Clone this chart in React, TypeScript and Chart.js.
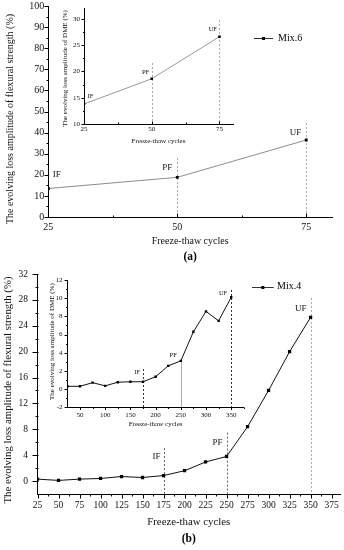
import React, { useEffect, useRef } from 'react';
import { Chart, registerables } from 'chart.js';
Chart.register(...registerables);

const FONT = '"Liberation Serif", "Times New Roman", serif';

// ---------- (a) Mix.6 ----------
const A_SERIES = 'Mix.6';
const A_CYCLES = [25, 50, 75];
const A_FLEX = [13.5, 18.8, 36.5];
const A_DME = [13.8, 18.6, 26.6];
const A_X_TICKS = [25, 50, 75];
const A_X_MINOR = [37.5, 62.5];
const A_Y_TICKS = [0, 10, 20, 30, 40, 50, 60, 70, 80, 90, 100];
const A_Y_MINOR = [5, 15, 25, 35, 45, 55, 65, 75, 85, 95];
const A_IN_Y_TICKS = [10, 15, 20, 25, 30];
const A_IN_Y_MINOR = [12.5, 17.5, 22.5, 27.5];

// ---------- (b) Mix.4 ----------
const B_SERIES = 'Mix.4';
const B_CYCLES = [25, 50, 75, 100, 125, 150, 175, 200, 225, 250, 275, 300, 325, 350];
const B_FLEX = [0.3, 0.1, 0.3, 0.4, 0.7, 0.55, 0.85, 1.6, 2.95, 3.8, 8.4, 14.0, 20.0, 25.3];
const B_DME = [0.3, 0.3, 0.7, 0.35, 0.75, 0.8, 0.8, 1.35, 2.55, 3.1, 6.3, 8.55, 7.5, 10.1];
const B_X_TICKS = [25, 50, 75, 100, 125, 150, 175, 200, 225, 250, 275, 300, 325, 350, 375];
const B_X_MINOR = [37.5, 62.5, 87.5, 112.5, 137.5, 162.5, 187.5, 212.5, 237.5, 262.5, 287.5, 312.5, 337.5, 362.5];
const B_Y_TICKS = [0, 4, 8, 12, 16, 20, 24, 28, 32];
const B_Y_MINOR = [2, 6, 10, 14, 18, 22, 26, 30];
const B_IN_X_TICKS = [50, 100, 150, 200, 250, 300, 350];
const B_IN_X_MINOR = [75, 125, 175, 225, 275, 325, 375];
const B_IN_Y_TICKS = [-2, 0, 2, 4, 6, 8, 10, 12];
const B_IN_Y_MINOR = [-1, 1, 3, 5, 7, 9, 11];

// stages
const STAGES = ['IF', 'PF', 'UF'];
const A_STAGE_X = [25, 50, 75];
const B_STAGE_X = [175, 250, 350];

const X_TITLE = 'Freeze-thaw cycles';
const Y_TITLE_MAIN = 'The evolving loss amplitude of flexural strength (%)';
const Y_TITLE_INSET = 'The evolving loss amplitude of DME (%)';

type Mark = { text: string; x: number; y: number; align: CanvasTextAlign; dx: number };
type VLine = { x: number; top: number; color: string; dash: number[] };

type Spec = {
  W: number; H: number;
  area: { left: number; top: number; right: number; bottom: number };
  xMin: number; xMax: number; yMin: number; yMax: number;
  xTicks: number[]; xMinor: number[]; yTicks: number[]; yMinor: number[];
  xs: number[]; ys: number[]; label: string; color: string; pr: number;
  tickFont: number; padX: number; padY: number;
  xTickDir: number; xLen: number; xMinLen: number; yLen: number; yMinLen: number;
  xTitleSize: number; xTitlePad: number;
  yTitle: string; yTitleSize: number; yTitleX: number; yTitleDy: number;
  marks: Mark[]; markSize: number; vlines: VLine[];
  legend?: { x0: number; x1: number; y: number; tx: number; size: number };
  caption?: { text: string; y: number; size: number };
};

function build(canvas: HTMLCanvasElement, s: Spec) {
  const decor = {
    id: 'decor',
    beforeDatasetsDraw(chart: any) {
      const { ctx, chartArea: ca, scales } = chart;
      ctx.save();
      ctx.lineWidth = 1;
      s.vlines.forEach((v) => {
        const px = Math.round(scales.x.getPixelForValue(v.x)) + 0.5;
        ctx.strokeStyle = v.color;
        ctx.setLineDash(v.dash);
        ctx.beginPath();
        ctx.moveTo(px, scales.y.getPixelForValue(v.top));
        ctx.lineTo(px, ca.bottom);
        ctx.stroke();
      });
      ctx.restore();
    },
    afterDraw(chart: any) {
      const { ctx, chartArea: ca, scales } = chart;
      const xs = scales.x, ys = scales.y;
      ctx.save();
      ctx.strokeStyle = '#000';
      ctx.lineWidth = 1;
      ctx.setLineDash([]);
      const by = Math.round(ca.bottom) + 0.5;
      const lx = Math.round(ca.left) + 0.5;
      const xt = (vals: number[], len: number) =>
        vals.forEach((v) => {
          const px = Math.round(xs.getPixelForValue(v)) + 0.5;
          ctx.beginPath();
          ctx.moveTo(px, by);
          ctx.lineTo(px, by + s.xTickDir * len);
          ctx.stroke();
        });
      const yt = (vals: number[], len: number) =>
        vals.forEach((v) => {
          const py = Math.round(ys.getPixelForValue(v)) + 0.5;
          ctx.beginPath();
          ctx.moveTo(lx, py);
          ctx.lineTo(lx - len, py);
          ctx.stroke();
        });
      xt(s.xTicks, s.xLen);
      xt(s.xMinor, s.xMinLen);
      yt(s.yTicks, s.yLen);
      yt(s.yMinor, s.yMinLen);

      ctx.fillStyle = '#111';
      ctx.textBaseline = 'middle';
      ctx.font = `${s.markSize}px ${FONT}`;
      s.marks.forEach((m) => {
        ctx.textAlign = m.align;
        ctx.fillText(m.text, xs.getPixelForValue(m.x) + m.dx, ys.getPixelForValue(m.y));
      });

      // y title
      ctx.save();
      ctx.translate(s.yTitleX, (ca.top + ca.bottom) / 2 + s.yTitleDy);
      ctx.rotate(-Math.PI / 2);
      ctx.textAlign = 'center';
      ctx.font = `${s.yTitleSize}px ${FONT}`;
      ctx.fillText(s.yTitle, 0, 0);
      ctx.restore();

      if (s.legend) {
        const L = s.legend;
        const ds = chart.data.datasets[0];
        ctx.strokeStyle = '#333';
        ctx.beginPath();
        ctx.moveTo(L.x0, Math.round(L.y) + 0.5);
        ctx.lineTo(L.x1, Math.round(L.y) + 0.5);
        ctx.stroke();
        ctx.fillStyle = '#000';
        const mx = (L.x0 + L.x1) / 2;
        ctx.fillRect(mx - 1.5, Math.round(L.y) - 1, 3, 3);
        ctx.textAlign = 'left';
        ctx.font = `${L.size}px ${FONT}`;
        ctx.fillText(ds.label, L.tx, L.y);
      }
      if (s.caption) {
        ctx.textAlign = 'center';
        ctx.fillStyle = '#000';
        ctx.font = `bold ${s.caption.size}px ${FONT}`;
        ctx.fillText(s.caption.text, (ca.left + ca.right) / 2, s.caption.y);
      }
      ctx.restore();
    },
  };

  const zeroPad = (sc: any) => {
    sc.paddingLeft = 0;
    sc.paddingRight = 0;
    sc.paddingTop = 0;
    sc.paddingBottom = 0;
  };

  return new Chart(canvas, {
    type: 'line',
    data: {
      datasets: [
        {
          label: s.label,
          data: s.xs.map((x, i) => ({ x, y: s.ys[i] })),
          borderColor: s.color,
          borderWidth: 1,
          pointStyle: 'rect',
          pointRadius: s.pr,
          pointBackgroundColor: '#000',
          pointBorderColor: '#000',
          pointBorderWidth: 0,
          tension: 0,
          fill: false,
        },
      ],
    },
    options: {
      responsive: false,
      animation: false,
      devicePixelRatio: 1,
      layout: { padding: { left: 0, top: s.area.top, right: s.W - s.area.right, bottom: 0 } },
      plugins: { legend: { display: false }, tooltip: { enabled: false }, title: { display: false } },
      scales: {
        x: {
          type: 'linear',
          min: s.xMin,
          max: s.xMax,
          afterBuildTicks: (sc: any) => {
            sc.ticks = s.xTicks.map((v) => ({ value: v }));
          },
          afterFit: (sc: any) => {
            sc.height = s.H - s.area.bottom;
            zeroPad(sc);
          },
          grid: { display: true, drawOnChartArea: false, drawTicks: false },
          border: { display: true, color: '#000', width: 1 },
          ticks: {
            autoSkip: false,
            maxRotation: 0,
            minRotation: 0,
            padding: s.padX,
            color: '#111',
            font: { family: FONT, size: s.tickFont },
          },
          title: {
            display: true,
            text: X_TITLE,
            color: '#111',
            font: { family: FONT, size: s.xTitleSize },
            padding: { top: 0, bottom: s.xTitlePad },
          },
        },
        y: {
          type: 'linear',
          min: s.yMin,
          max: s.yMax,
          afterBuildTicks: (sc: any) => {
            sc.ticks = s.yTicks.map((v) => ({ value: v }));
          },
          afterFit: (sc: any) => {
            sc.width = s.area.left;
            zeroPad(sc);
          },
          grid: { display: true, drawOnChartArea: false, drawTicks: false },
          border: { display: true, color: '#000', width: 1 },
          ticks: {
            autoSkip: false,
            padding: s.padY,
            color: '#111',
            font: { family: FONT, size: s.tickFont },
          },
          title: { display: false },
        },
      },
    },
    plugins: [decor],
  } as any);
}

const markList = (xs: number[], ys: number[], aligns: CanvasTextAlign[], dxs: number[]): Mark[] =>
  STAGES.map((t, i) => ({ text: t, x: xs[i], y: ys[i], align: aligns[i], dx: dxs[i] }));

export default function App() {
  const aMain = useRef<HTMLCanvasElement>(null);
  const aIn = useRef<HTMLCanvasElement>(null);
  const bMain = useRef<HTMLCanvasElement>(null);
  const bIn = useRef<HTMLCanvasElement>(null);

  useEffect(() => {
    const charts: Chart[] = [];
    charts.push(
      build(aMain.current!, {
        W: 344, H: 270,
        area: { left: 48.3, top: 6, right: 332, bottom: 217 },
        xMin: 25, xMax: 80, yMin: 0, yMax: 100,
        xTicks: A_X_TICKS, xMinor: A_X_MINOR, yTicks: A_Y_TICKS, yMinor: A_Y_MINOR,
        xs: A_CYCLES, ys: A_FLEX, label: A_SERIES, color: '#8c8c8c', pr: 2,
        tickFont: 10, padX: 4.5, padY: 4,
        xTickDir: -1, xLen: 4, xMinLen: 2, yLen: 4, yMinLen: 2,
        xTitleSize: 10, xTitlePad: 22.5,
        yTitle: Y_TITLE_MAIN, yTitleSize: 10, yTitleX: 10, yTitleDy: 7.5,
        marks: markList(A_STAGE_X, [19.9, 23.2, 39.8], ['left', 'right', 'right'], [4.5, -5, -5]),
        markSize: 9,
        vlines: [
          { x: A_STAGE_X[1], top: 28, color: '#aaa', dash: [2, 2] },
          { x: A_STAGE_X[2], top: 44.5, color: '#aaa', dash: [2, 2] },
        ],
        legend: { x0: 254, x1: 273, y: 38.3, tx: 278, size: 10 },
        caption: { text: '(a)', y: 257, size: 11.5 },
      })
    );
    charts.push(
      build(aIn.current!, {
        W: 200, H: 150,
        area: { left: 44, top: 8.3, right: 193, bottom: 124 },
        xMin: 25, xMax: 80, yMin: 10, yMax: 32,
        xTicks: A_X_TICKS, xMinor: A_X_MINOR, yTicks: A_IN_Y_TICKS, yMinor: A_IN_Y_MINOR,
        xs: A_CYCLES, ys: A_DME, label: A_SERIES, color: '#999', pr: 1.8,
        tickFont: 7, padX: 0.5, padY: 4,
        xTickDir: -1, xLen: 3, xMinLen: 2, yLen: 3, yMinLen: 1.5,
        xTitleSize: 7, xTitlePad: 4.3,
        yTitle: Y_TITLE_INSET, yTitleSize: 7, yTitleX: 25, yTitleDy: 2.3,
        marks: markList(A_STAGE_X, [15.2, 19.75, 28], ['left', 'right', 'right'], [3.5, -2.5, -2.5]),
        markSize: 6.5,
        vlines: [
          { x: A_STAGE_X[1], top: 21.6, color: '#aaa', dash: [2, 2] },
          { x: A_STAGE_X[2], top: 29.8, color: '#aaa', dash: [2, 2] },
        ],
      })
    );
    charts.push(
      build(bMain.current!, {
        W: 344, H: 280,
        area: { left: 37.5, top: 4, right: 341.9, bottom: 224 },
        xMin: 25, xMax: 385, yMin: -2, yMax: 32,
        xTicks: B_X_TICKS, xMinor: B_X_MINOR, yTicks: B_Y_TICKS, yMinor: B_Y_MINOR,
        xs: B_CYCLES, ys: B_FLEX, label: B_SERIES, color: '#111', pr: 2.3,
        tickFont: 9.5, padX: 6, padY: 9.5,
        xTickDir: 1, xLen: 4, xMinLen: 2, yLen: 6, yMinLen: 3,
        xTitleSize: 10.8, xTitlePad: 21,
        yTitle: Y_TITLE_MAIN, yTitleSize: 10.8, yTitleX: 8.5, yTitleDy: 6,
        marks: markList(B_STAGE_X, [3.7, 6.0, 26.6], ['right', 'right', 'right'], [-3, -4, -4]),
        markSize: 9,
        vlines: [
          { x: B_STAGE_X[0], top: 5.1, color: '#666', dash: [2, 2] },
          { x: B_STAGE_X[1], top: 7.5, color: '#666', dash: [2, 2] },
          { x: B_STAGE_X[2], top: 28.3, color: '#aaa', dash: [2, 2] },
        ],
        legend: { x0: 252, x1: 273.7, y: 16.7, tx: 277, size: 10 },
        caption: { text: '(b)', y: 269.5, size: 11.5 },
      })
    );
    charts.push(
      build(bIn.current!, {
        W: 240, H: 160,
        area: { left: 47.4, top: 10, right: 223.8, bottom: 137.2 },
        xMin: 25, xMax: 375, yMin: -2, yMax: 12,
        xTicks: B_IN_X_TICKS, xMinor: B_IN_X_MINOR, yTicks: B_IN_Y_TICKS, yMinor: B_IN_Y_MINOR,
        xs: B_CYCLES, ys: B_DME, label: B_SERIES, color: '#111', pr: 1.7,
        tickFont: 7, padX: 3.6, padY: 4.8,
        xTickDir: 1, xLen: 2.5, xMinLen: 1.5, yLen: 3, yMinLen: 1.5,
        xTitleSize: 7, xTitlePad: 2.1,
        yTitle: Y_TITLE_INSET, yTitleSize: 7, yTitleX: 32, yTitleDy: -2,
        marks: markList(B_STAGE_X, [1.8, 3.75, 10.5], ['right', 'right', 'right'], [-3, -4, -4]),
        markSize: 6.5,
        vlines: [
          { x: B_STAGE_X[0], top: 2.2, color: '#333', dash: [2, 2] },
          { x: B_STAGE_X[1], top: 3.1, color: '#aaa', dash: [] },
          { x: B_STAGE_X[2], top: 10.9, color: '#333', dash: [2, 2] },
        ],
      })
    );
    return () => charts.forEach((c) => c.destroy());
  }, []);

  const pos = (l: number, t: number): React.CSSProperties => ({ position: 'absolute', left: l, top: t, display: 'block' });

  return (
    <div style={{ position: 'absolute', left: 0, top: 0, width: 344, height: 550, background: '#fff' }}>
      <canvas ref={aMain} width={344} height={270} style={pos(0, 0)} />
      <canvas ref={aIn} width={200} height={150} style={pos(40, 0)} />
      <canvas ref={bMain} width={344} height={280} style={pos(0, 270)} />
      <canvas ref={bIn} width={240} height={160} style={pos(20, 270)} />
    </div>
  );
}
